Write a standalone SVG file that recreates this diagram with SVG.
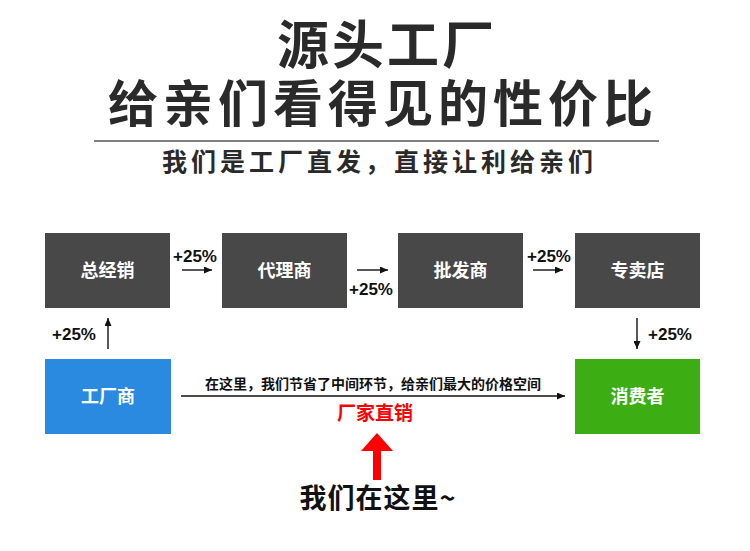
<svg xmlns="http://www.w3.org/2000/svg" width="750" height="551" viewBox="0 0 750 551">
<defs>
<style>
.cjk{font-family:"Noto Sans CJK SC","Noto Sans",sans-serif;font-weight:700}
.t{fill:#2a2a2a}
.box{fill:#484848}
.lbl{fill:#ffffff;font-size:18px;text-anchor:middle}
.pct{font-family:"Liberation Sans",Arial,sans-serif;font-weight:700;font-size:17px;fill:#111;text-anchor:middle}
.ln{stroke:#111;stroke-width:1.4;fill:none}
</style>
<marker id="ah" viewBox="0 0 8 7" refX="8" refY="3.5" markerWidth="8" markerHeight="7" markerUnits="userSpaceOnUse" orient="auto">
<path d="M0,0 L8,3.5 L0,7 z" fill="#111"/>
</marker>
</defs>
<rect width="750" height="551" fill="#ffffff"/>

<g id="title">
<text class="cjk t" font-size="52" x="277 332 387 442" y="64">源头工厂</text>
<text class="cjk t" font-size="50" x="108 163 218 273 328 383 438 493 548 603" y="122">给亲们看得见的性价比</text>
<line x1="94" y1="141" x2="659" y2="141" stroke="#555" stroke-width="1.5"/>
<text class="cjk t" font-size="25" x="162" y="171" letter-spacing="4">我们是工厂直发，直接让利给亲们</text>
</g>

<g id="n-zongjingxiao"><rect class="box" x="45" y="233" width="125" height="75"/><text class="cjk lbl" x="107.5" y="277">总经销</text></g>
<g id="n-dailishang"><rect class="box" x="222" y="233" width="125" height="75"/><text class="cjk lbl" x="284.5" y="277">代理商</text></g>
<g id="n-pifashang"><rect class="box" x="398" y="233" width="125" height="75"/><text class="cjk lbl" x="460.5" y="277">批发商</text></g>
<g id="n-zhuanmaidian"><rect class="box" x="575" y="233" width="125" height="75"/><text class="cjk lbl" x="637.5" y="277">专卖店</text></g>
<g id="n-gongchangshang"><rect x="45" y="359" width="126" height="75" fill="#2a8ae0"/><text class="cjk lbl" x="108" y="403">工厂商</text></g>
<g id="n-xiaofeizhe"><rect x="575" y="359" width="125" height="75" fill="#3cae14"/><text class="cjk lbl" x="637.5" y="403">消费者</text></g>

<g id="connectors">
<line class="ln" x1="182" y1="270" x2="212" y2="270" marker-end="url(#ah)"/>
<line class="ln" x1="357" y1="270" x2="388" y2="270" marker-end="url(#ah)"/>
<line class="ln" x1="533" y1="270" x2="563" y2="270" marker-end="url(#ah)"/>
<line class="ln" x1="637" y1="318" x2="637" y2="349" marker-end="url(#ah)"/>
<line class="ln" x1="108" y1="349" x2="108" y2="318" marker-end="url(#ah)"/>
<line class="ln" x1="181" y1="396" x2="565" y2="396" stroke-width="1.2" marker-end="url(#ah)"/>
<text class="pct" x="195" y="262">+25%</text>
<text class="pct" x="371" y="295">+25%</text>
<text class="pct" x="549" y="262">+25%</text>
<text class="pct" x="670" y="340">+25%</text>
<text class="pct" x="74" y="340">+25%</text>
<text class="cjk" font-size="14" fill="#111" x="373" y="389" text-anchor="middle" font-weight="500">在这里，我们节省了中间环节，给亲们最大的价格空间</text>
</g>

<g id="factory-direct">
<text class="cjk" font-size="19" fill="#ff0000" x="375" y="420" text-anchor="middle">厂家直销</text>
<polygon points="361,451 377,433 393,451" fill="#ff0000"/>
<rect x="373" y="450" width="8" height="30" fill="#ff0000"/>
<text class="cjk" font-size="27" fill="#111" x="378" y="508" text-anchor="middle" letter-spacing="1">我们在这里~</text>
</g>
</svg>
